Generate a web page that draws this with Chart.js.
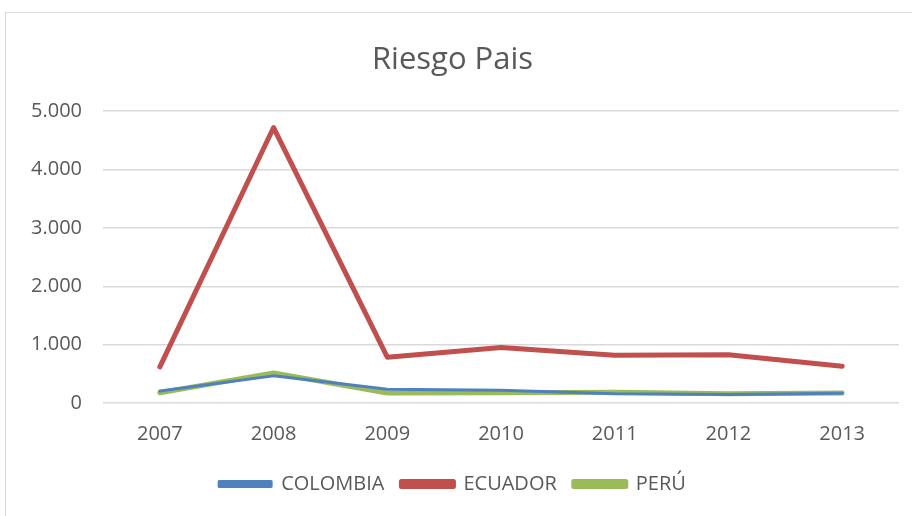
<!DOCTYPE html>
<html lang="es">
<head>
    <meta charset="UTF-8">
    <title>Riesgo Pais</title>
    <script src="https://cdn.jsdelivr.net/npm/chart.js"></script>
</head>

<style>
    body { margin: 0; background: #fff; }
    .marco {
        position: absolute;
        left: 5px;
        top: 12px;
        width: 920px;
        height: 520px;
        border: 1px solid #d9d9d9;
        box-sizing: border-box;
    }
    .grafico_sty {
        position: absolute;
        left: 6px;
        top: 13px;
        width: 906px;
        height: 503px;
    }
</style>

<body>
    <div class="marco"></div>
    <div class="grafico_sty">
        <canvas id="grafico_1"></canvas>
    </div>

    <script>
        const anios = ['2007', '2008', '2009', '2010', '2011', '2012', '2013'];
        const colombia = [205, 465, 235, 220, 160, 145, 165];
        const ecuador = [620, 4720, 785, 950, 820, 825, 630];
        const peru = [175, 515, 170, 175, 185, 160, 170];

        const fuente = "'Open Sans', 'Liberation Sans', sans-serif";
        const gris = '#595959';

        const ctx = document.getElementById('grafico_1');

        new Chart(ctx, {
            type: 'line',
            data: {
                labels: anios,
                datasets: [
                    { label: 'COLOMBIA', data: colombia, borderColor: '#4f81bd', backgroundColor: '#4f81bd', borderWidth: 3 },
                    { label: 'ECUADOR', data: ecuador, borderColor: '#c0504d', backgroundColor: '#c0504d', borderWidth: 5 },
                    { label: 'PERÚ', data: peru, borderColor: '#9bbb59', backgroundColor: '#9bbb59', borderWidth: 5 }
                ]
            },
            options: {
                responsive: true,
                maintainAspectRatio: false,
                animation: false,
                elements: {
                    point: { radius: 0 },
                    line: { tension: 0, borderCapStyle: 'round', borderJoinStyle: 'round' }
                },
                layout: { padding: { top: 29, right: 13, bottom: 12, left: 0 } },
                plugins: {
                    title: {
                        display: true,
                        text: 'Riesgo Pais',
                        color: gris,
                        font: { family: fuente, size: 31, weight: 'normal' },
                        padding: { top: 0, bottom: 32 }
                    },
                    legend: {
                        position: 'bottom',
                        labels: {
                            color: gris,
                            font: { family: fuente, size: 20 },
                            boxWidth: 52,
                            boxHeight: 5,
                            padding: 17
                        }
                    },
                    tooltip: { enabled: false }
                },
                scales: {
                    x: {
                        offset: true,
                        grid: { display: false },
                        border: { display: false },
                        ticks: { color: gris, font: { family: fuente, size: 20 }, padding: 11 }
                    },
                    y: {
                        min: 0,
                        max: 5000,
                        afterFit: (s) => { s.width = 97; },
                        grid: { color: '#d9d9d9', lineWidth: 1.5, drawTicks: false },
                        border: { display: false },
                        ticks: {
                            stepSize: 1000,
                            color: gris,
                            font: { family: fuente, size: 20 },
                            padding: 21,
                            callback: (v) => v === 0 ? '0' : v.toLocaleString('de-DE')
                        }
                    }
                }
            }
        });
    </script>
</body>
</html>
